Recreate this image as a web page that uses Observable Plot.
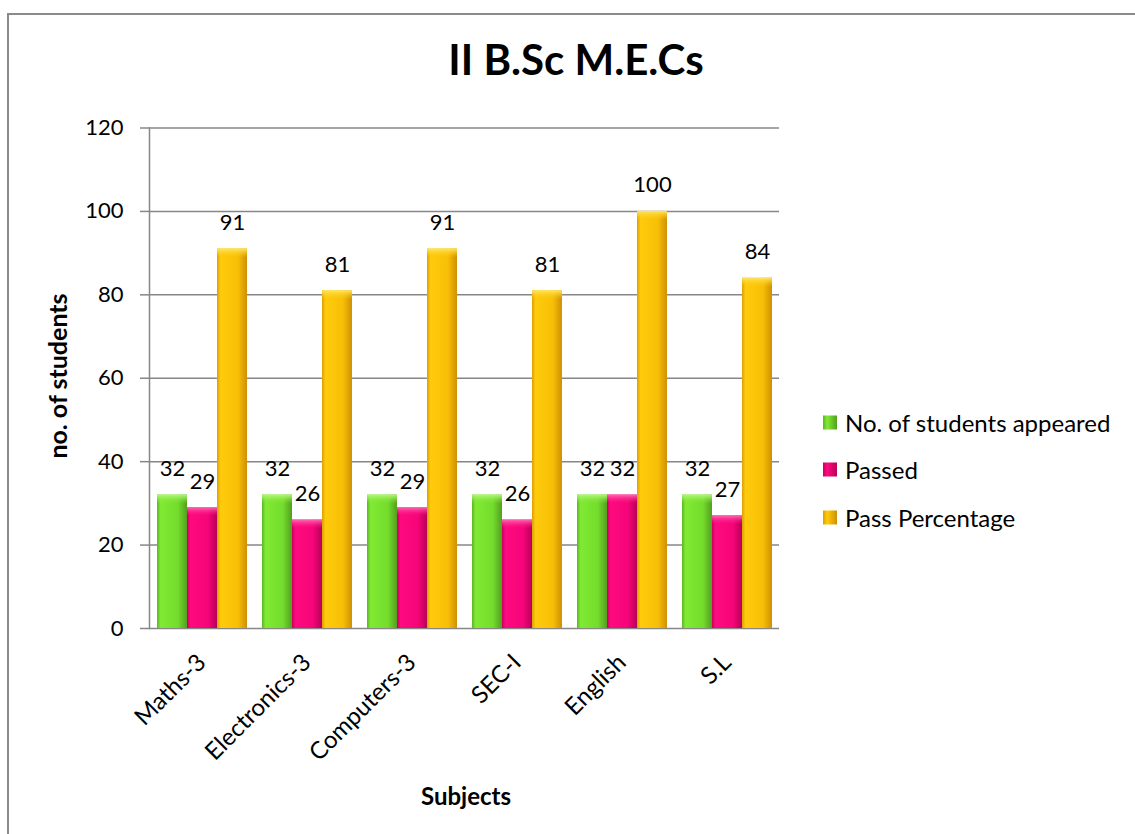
<!DOCTYPE html>
<html>
<head>
<meta charset="utf-8">
<script src="https://cdn.jsdelivr.net/npm/d3@7"></script>
<script src="https://cdn.jsdelivr.net/npm/@observablehq/plot@0.6"></script>
<style>
  html, body { margin: 0; padding: 0; background: #fff; }
  #wrap { position: relative; width: 1135px; height: 834px; overflow: hidden; font-family: Lato, "Open Sans", sans-serif; color: #000; }
  #border { position: absolute; left: 7px; top: 13px; width: 1300px; height: 1000px; border: 2px solid #8a8a8a; box-sizing: border-box; }
  #chart { position: absolute; left: 0; top: 0; }
  #title { position: absolute; left: 376px; width: 400px; top: 38px; text-align: center; font-weight: 700; font-size: 42px; line-height: 42px; white-space: nowrap; }
  #ylab { position: absolute; left: 57px; top: 376px; transform: translate(-50%, -50%) rotate(-90deg); font-weight: 700; font-size: 25px; white-space: nowrap; }
  #xlab { position: absolute; left: 466px; top: 795px; transform: translate(-50%, -50%); font-weight: 700; font-size: 24px; white-space: nowrap; }
  #legend { position: absolute; left: 823px; top: 0; }
  .li { position: absolute; left: 0; display: flex; align-items: center; white-space: nowrap; font-size: 24px; transform: translateY(-50%); }
  .sw { width: 14px; height: 14px; margin-right: 8px; box-sizing: border-box; }
</style>
</head>
<body>
<svg width="0" height="0" style="position:absolute">
  <defs>
    <linearGradient id="gGreen" x1="0" x2="1" y1="0" y2="0">
      <stop offset="0%" stop-color="#5cb524"/>
      <stop offset="12%" stop-color="#80ea33"/>
      <stop offset="70%" stop-color="#74dc2c"/>
      <stop offset="100%" stop-color="#529f20"/>
    </linearGradient>
    <linearGradient id="gPink" x1="0" x2="1" y1="0" y2="0">
      <stop offset="0%" stop-color="#c9005f"/>
      <stop offset="12%" stop-color="#ff0a80"/>
      <stop offset="70%" stop-color="#f50579"/>
      <stop offset="100%" stop-color="#b80056"/>
    </linearGradient>
    <linearGradient id="gYellow" x1="0" x2="1" y1="0" y2="0">
      <stop offset="0%" stop-color="#dc9f05"/>
      <stop offset="12%" stop-color="#ffcb0c"/>
      <stop offset="70%" stop-color="#f7bf06"/>
      <stop offset="100%" stop-color="#cf9004"/>
    </linearGradient>
    <linearGradient id="hGreen" x1="0" x2="0" y1="0" y2="1">
      <stop offset="0%" stop-color="#b4f77c"/>
      <stop offset="100%" stop-color="#80ea33" stop-opacity="0"/>
    </linearGradient>
    <linearGradient id="hPink" x1="0" x2="0" y1="0" y2="1">
      <stop offset="0%" stop-color="#ff6cb4"/>
      <stop offset="100%" stop-color="#ff0a80" stop-opacity="0"/>
    </linearGradient>
    <linearGradient id="hYellow" x1="0" x2="0" y1="0" y2="1">
      <stop offset="0%" stop-color="#ffe566"/>
      <stop offset="100%" stop-color="#ffcb0c" stop-opacity="0"/>
    </linearGradient>
  </defs>
</svg>
<div id="wrap">
  <div id="border"></div>
  <div id="chart"></div>
  <div id="title">II B.Sc M.E.Cs</div>
  <div id="ylab">no. of students</div>
  <div id="xlab">Subjects</div>
  <div id="legend"></div>
</div>
<script>
const subjects = ["Maths-3", "Electronics-3", "Computers-3", "SEC-I", "English", "S.L"];
const series = ["No. of students appeared", "Passed", "Pass Percentage"];
const appeared = [32, 32, 32, 32, 32, 32];
const passed = [29, 26, 29, 26, 32, 27];
const passPercentage = [91, 81, 91, 81, 100, 84];
const yTicks = [0, 20, 40, 60, 80, 100, 120];
const fills = ["url(#gGreen)", "url(#gPink)", "url(#gYellow)"];
const highlights = ["url(#hGreen)", "url(#hPink)", "url(#hYellow)"];

const seriesValues = [appeared, passed, passPercentage];
const rows = [];
subjects.forEach((s, i) => {
  series.forEach((k, j) => rows.push({subject: s, series: k, value: seriesValues[j][i]}));
});

const barMarks = [];
series.forEach((k, j) => {
  const d = rows.filter(r => r.series === k);
  barMarks.push(Plot.barY(d, {fx: "subject", x: "series", y: "value", fill: fills[j]}));
  barMarks.push(Plot.barY(d, {fx: "subject", x: "series", y1: "value", y2: r => r.value - 2.2, fill: highlights[j]}));
});

const chart = Plot.plot({
  width: 1135,
  height: 834,
  marginTop: 127.5,
  marginBottom: 206,
  marginLeft: 147,
  marginRight: 355,
  style: {fontFamily: "Lato, 'Open Sans', sans-serif", fontSize: "22px", color: "#000", background: "transparent", overflow: "visible"},
  fx: {domain: subjects, padding: 0, label: null},
  x: {domain: series, paddingInner: 0, paddingOuter: 0.23, axis: null},
  y: {domain: [0, 120], axis: null},
  marks: [
    Plot.gridY(yTicks, {stroke: "#878787", strokeOpacity: 1, strokeWidth: 1.5}),
    Plot.frame({anchor: "left", facetAnchor: "left", stroke: "#878787", strokeWidth: 1.5}),
    Plot.axisY(yTicks, {tickSize: 9, tickPadding: 17, stroke: "#878787", strokeWidth: 1.5, label: null, fill: "#000", fontSize: 22}),
    ...barMarks,
    Plot.text(rows, {fx: "subject", x: "series", y: "value", text: r => String(r.value), dy: -26, fontSize: 22, fill: "#000"}),
    Plot.axisFx({anchor: "bottom", tickRotate: -45, tickSize: 0, tickPadding: 30, label: null, fontSize: 24, fill: "#000"})
  ]
});
document.getElementById("chart").appendChild(chart);

const legend = document.getElementById("legend");
const legendY = [422, 469, 517];
series.forEach((k, j) => {
  const item = document.createElement("div");
  item.className = "li";
  item.style.top = legendY[j] + "px";
  const sw = document.createElement("div");
  sw.className = "sw";
  sw.style.background = ["linear-gradient(90deg,#5cb524,#80ea33 30%,#529f20)", "linear-gradient(90deg,#c9005f,#ff0a80 30%,#b80056)", "linear-gradient(90deg,#dc9f05,#ffcb0c 30%,#cf9004)"][j];
  const t = document.createElement("span");
  t.textContent = k;
  item.appendChild(sw);
  item.appendChild(t);
  legend.appendChild(item);
});
</script>
</body>
</html>
